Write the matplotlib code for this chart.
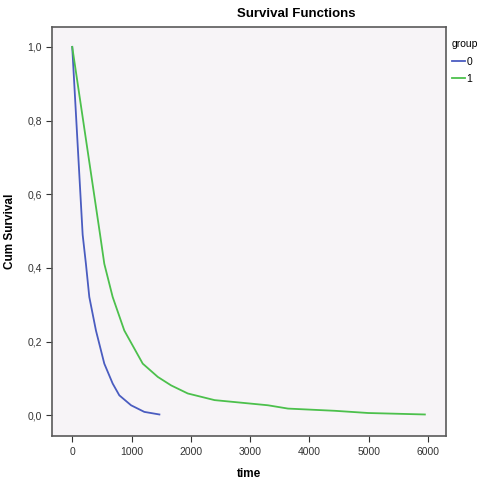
import numpy as np
import matplotlib.pyplot as plt

plt.rcParams['font.family'] = ['Liberation Sans', 'DejaVu Sans']

# survival estimates
time_g0 = [0, 176, 231, 288, 400, 541, 682, 794, 992, 1216, 1470]
surv_g0 = [1.0, 0.49, 0.411, 0.321, 0.230, 0.140, 0.086, 0.054, 0.027, 0.009, 0.002]

time_g1 = [0, 470, 541, 682, 878, 1189, 1443, 1667, 1949, 2400, 2850, 3300, 3638, 4426, 4990, 5946]
surv_g1 = [1.0, 0.49, 0.411, 0.321, 0.230, 0.140, 0.104, 0.081, 0.059, 0.041, 0.034, 0.027, 0.018, 0.012, 0.006, 0.002]

xticks = [0, 1000, 2000, 3000, 4000, 5000, 6000]
yticks = [0.0, 0.2, 0.4, 0.6, 0.8, 1.0]
ylabels = ["0,0", "0,2", "0,4", "0,6", "0,8", "1,0"]

fig = plt.figure(figsize=(4.82, 4.82), dpi=100)
ax = fig.add_axes([0.108, 0.095, 0.817, 0.849])
ax.set_facecolor('#f7f4f7')

ax.plot(time_g0, surv_g0, color='#4a5cc0', lw=1.3, label='0')
ax.plot(time_g1, surv_g1, color='#4cc04c', lw=1.3, label='1')

ax.set_xlim(-340, 6300)
ax.set_ylim(-0.057, 1.054)
ax.set_xticks(xticks)
ax.set_yticks(yticks)
ax.set_yticklabels(ylabels)
ax.tick_params(labelsize=7.5, colors='#333333', length=4, width=0.8)
for sp in ax.spines.values():
    sp.set_color('#5a5a5a')
    sp.set_linewidth(1.2)

ax.set_xlabel('time', fontsize=8.5, fontweight='bold', labelpad=8)
ax.set_ylabel('Cum Survival', fontsize=8.5, fontweight='bold', labelpad=8)
fig.text(296/482, 1 - 14/482, 'Survival Functions', fontsize=9.5, fontweight='bold',
         ha='center', va='center')

leg = ax.legend(title='group', loc='upper left', bbox_to_anchor=(1.0, 0.985),
                frameon=False, fontsize=7.5, title_fontsize=7.5, handlelength=1.2,
                handletextpad=0.2, labelspacing=0.7, borderaxespad=0.2)
leg._legend_box.align = 'left'

fig.savefig('out.png', dpi=100)
